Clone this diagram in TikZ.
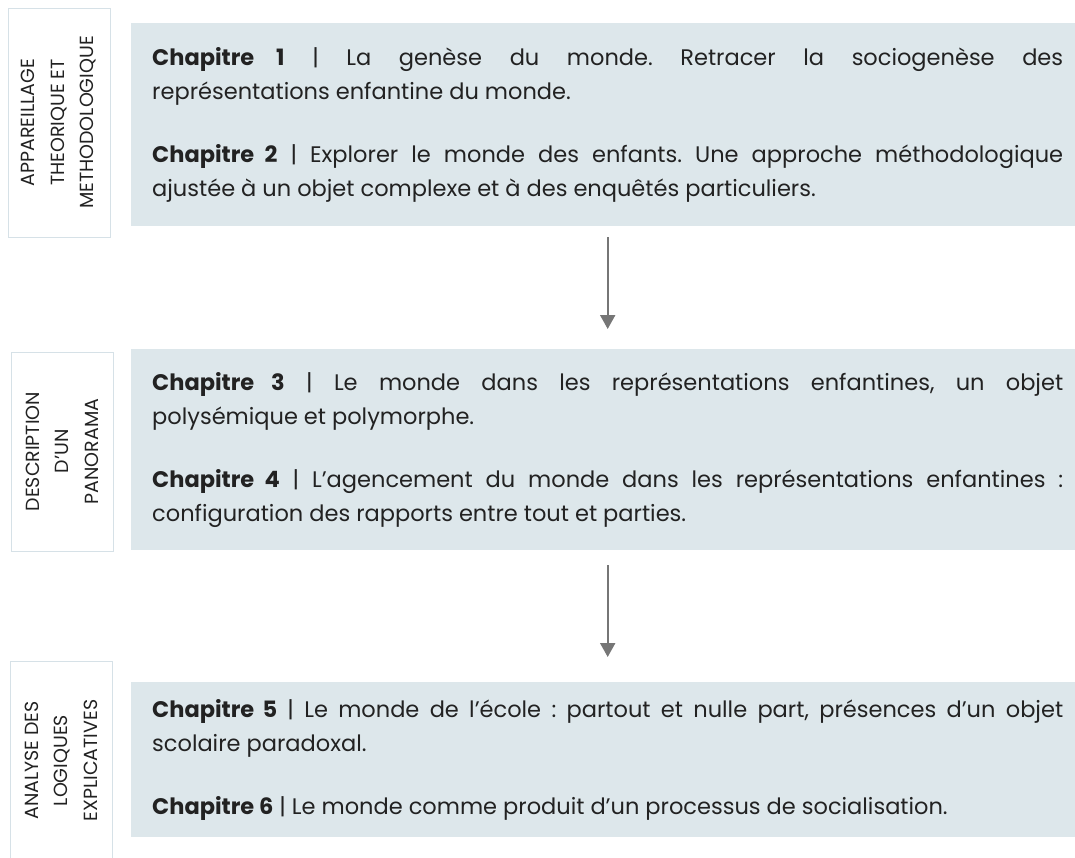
\documentclass[tikz,border=0pt]{standalone}
\usepackage{fontspec}
\setmainfont{Poppins}
\usetikzlibrary{arrows.meta}
\definecolor{boxfill}{HTML}{DDE7EB}
\definecolor{sideline}{HTML}{D6E1E7}
\definecolor{arrowgray}{HTML}{767676}
\definecolor{textgray}{HTML}{222222}
\frenchspacing
\begin{document}
\begin{tikzpicture}[x=1pt,y=-1pt,
  chapbox/.style={fill=boxfill, text=textgray, anchor=north west, inner xsep=21pt, inner ysep=0pt,
    text width=911pt, align=justify, font=\fontsize{22.5}{34}\selectfont},
  sidebox/.style={draw=sideline, line width=1pt, rotate=90, text=textgray, align=center,
    inner sep=0pt, minimum height=102pt, font=\fontsize{19}{29.5}\selectfont},
  flow/.style={draw=arrowgray, line width=2pt, -{Triangle[width=15pt,length=14pt]}}]
\useasboundingbox (0,0) rectangle (1075,857);

\node[sidebox, minimum width=229pt] (side1) at (59,122.5) {APPAREILLAGE\\THEORIQUE ET\\METHODOLOGIQUE};
\node[sidebox, minimum width=199pt] (side2) at (62,451.5) {DESCRIPTION\\D’UN\\PANORAMA};
\node[sidebox, minimum width=199pt] (side3) at (61,760.5) {ANALYSE DES\\LOGIQUES\\EXPLICATIVES};

\node[chapbox, minimum height=203pt] (ch12) at (131,23) {\textbf{Chapitre 1} | La genèse du monde. Retracer la sociogenèse des\linebreak représentations enfantine du monde.\\[29pt]\textbf{Chapitre 2} | Explorer le monde des enfants. Une approche méthodologique\linebreak ajustée à un objet complexe et à des enquêtés particuliers.};
\node[chapbox, minimum height=201pt] (ch34) at (131,349) {\textbf{Chapitre 3} | Le monde dans les représentations enfantines, un objet\linebreak polysémique et polymorphe.\\[29pt]\textbf{Chapitre 4} | L’agencement du monde dans les représentations enfantines~:\linebreak configuration des rapports entre tout et parties.};
\node[chapbox, minimum height=155pt] (ch56) at (131,682) {\textbf{Chapitre 5} | Le monde de l’école~: partout et nulle part, présences d’un objet\linebreak scolaire paradoxal.\\[29pt]\textbf{Chapitre 6} | Le monde comme produit d’un processus de socialisation.};

\draw[flow, shorten <=11pt, shorten >=20pt] (ch12.south) -- (ch34.north);
\draw[flow, shorten <=15pt, shorten >=25pt] (ch34.south) -- (ch56.north);
\end{tikzpicture}
\end{document}
